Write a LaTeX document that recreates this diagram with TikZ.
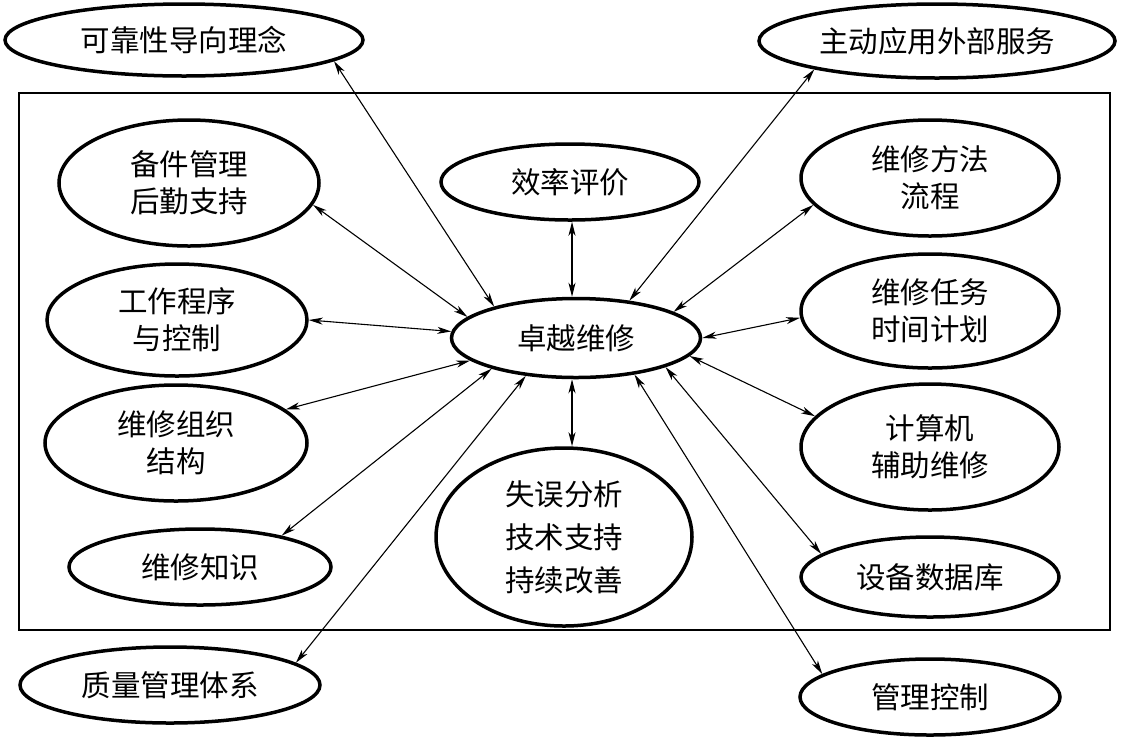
\documentclass[tikz,border=0pt]{standalone}
\usepackage{fontspec}
\newfontfamily\cjk{Noto Sans CJK SC}
\usetikzlibrary{shapes.geometric,arrows.meta}
\begin{document}
\begin{tikzpicture}[x=1pt,y=-1pt,
  ell/.style={ellipse, draw, line width=3.5pt, inner sep=0pt, align=center,
    font=\cjk\fontsize{29.5}{37}\selectfont},
  tip/.tip={Stealth[length=14pt,width=7pt,inset=4pt]},
  conn/.style={line width=1.1pt, tip-tip},
  frame/.style={draw, line width=1.6pt}]
\useasboundingbox (0,0) rectangle (1124,740);
\draw[frame] (19,93) rectangle (1110,630);
% outer nodes
\node[ell, minimum width=358, minimum height=72] (K) at (184,40) {可靠性导向理念};
\node[ell, minimum width=356, minimum height=74] (Z) at (937,41) {主动应用外部服务};
\node[ell, minimum width=300, minimum height=76] (Q) at (170,685) {质量管理体系};
\node[ell, minimum width=260, minimum height=76] (M) at (930,697) {管理控制};
% inner nodes
\node[ell, minimum width=260, minimum height=126] (B) at (189,183) {备件管理\\后勤支持};
\node[ell, minimum width=258, minimum height=76] (E) at (570,182) {效率评价};
\node[ell, minimum width=258, minimum height=116] (F) at (930,178) {维修方法\\流程};
\node[ell, minimum width=260, minimum height=112] (G) at (177,320) {工作程序\\与控制};
\node[ell, minimum width=249, minimum height=79] (C) at (576,338) {卓越维修};
\node[ell, minimum width=258, minimum height=114] (R) at (930,311) {维修任务\\时间计划};
\node[ell, minimum width=262, minimum height=116] (O) at (176,443) {维修组织\\结构};
\node[ell, minimum width=258, minimum height=126] (J) at (930,447) {计算机\\辅助维修};
\node[ell, minimum width=256, minimum height=178, font=\cjk\fontsize{29.5}{43}\selectfont] (X) at (564,537) {失误分析\\技术支持\\持续改善};
\node[ell, minimum width=262, minimum height=76] (S) at (200,567) {维修知识};
\node[ell, minimum width=258, minimum height=80] (D) at (930,577) {设备数据库};
% connectors
\draw[conn] (K.-8.5) -- (C.159);
\draw[conn] (Z.-167.3) -- (C.35.5);
\draw[conn] (B.-10.4) -- (C.169.5);
\draw[conn] (G.-0.9) -- (C.177.7);
\draw[conn] (O.17) -- (C.-168.8);
\draw[conn] (S.21.9) -- (C.-160.6);
\draw[conn] (Q.10.9) -- (C.-143.5);
\draw[conn] (F.-167.5) -- (C.15);
\draw[conn] (R.-177.8) -- (C.0.9);
\draw[conn] (J.165.3) -- (C.-9.7);
\draw[conn] (D.168) -- (C.-18.8);
\draw[conn] (M.168) -- (C.-32);
\draw[conn] (E.south -| 572,0) -- (C.north -| 572,0);
\draw[conn] (C.south -| 572,0) -- (X.north -| 572,0);
\end{tikzpicture}
\end{document}
